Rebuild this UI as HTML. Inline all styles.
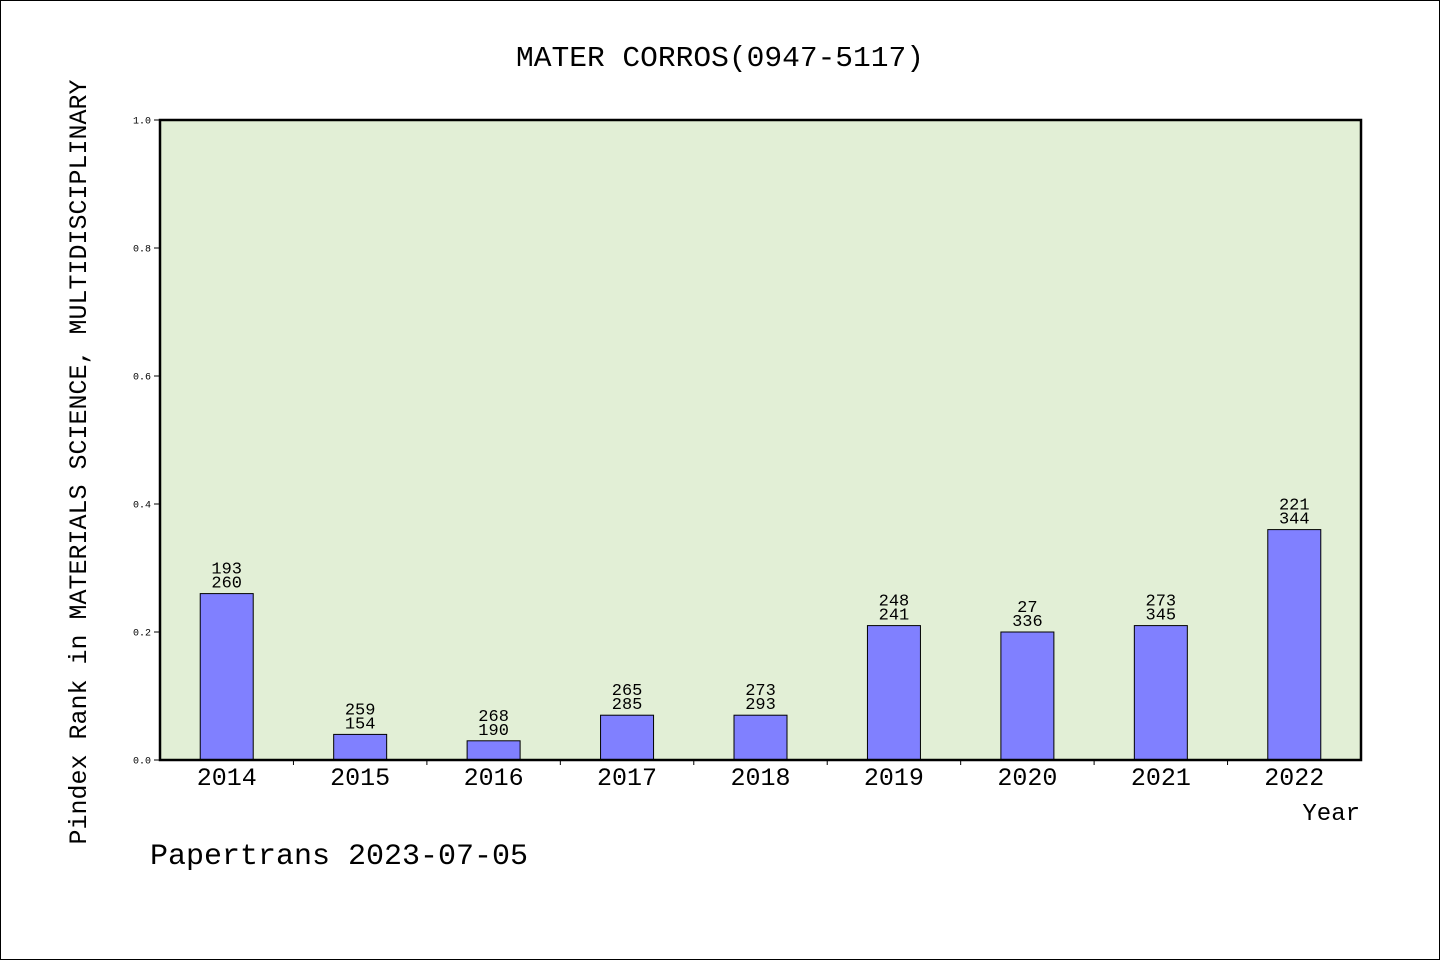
<!DOCTYPE html>
<html><head><meta charset="utf-8"><style>
html,body{margin:0;padding:0;background:#fff}
svg{display:block}
text{font-family:"Liberation Mono",monospace;fill:#000}
</style></head><body>
<svg id="chart" width="1440" height="960">
<rect x="0.5" y="0.5" width="1439" height="959" fill="#fff" stroke="#000"/>
<text x="720" y="66" font-size="29" text-anchor="middle" textLength="408" lengthAdjust="spacingAndGlyphs">MATER CORROS(0947-5117)</text>
<rect x="160" y="120" width="1201" height="640" fill="#e2efd6"/>
<g id="bars"></g>
<rect x="160" y="120" width="1201" height="640" fill="none" stroke="#000" stroke-width="2.5"/>
<g id="axes"></g>
<text x="86" y="462" font-size="25" text-anchor="middle" textLength="765" lengthAdjust="spacingAndGlyphs" transform="rotate(-90 86 462)">Pindex Rank in MATERIALS SCIENCE, MULTIDISCIPLINARY</text>
<text x="1360" y="820" font-size="24" text-anchor="end">Year</text>
<text x="150" y="864" font-size="30">Papertrans 2023-07-05</text>
</svg>
<script>
const years=["2014","2015","2016","2017","2018","2019","2020","2021","2022"];
const values=[0.26,0.04,0.03,0.07,0.07,0.21,0.20,0.21,0.36];
const topLabels=["193","259","268","265","273","248","27","273","221"];
const bottomLabels=["260","154","190","285","293","241","336","345","344"];
const yTicks=[0,0.2,0.4,0.6,0.8,1.0];
const L=160,R=1361,T=120,B=760;
const step=(R-L)/years.length;
const xC=i=>L+step*(i+0.5);
const yS=v=>B-(B-T)*v;
const NS="http://www.w3.org/2000/svg";
const bars=document.getElementById('bars'),axes=document.getElementById('axes');
function mk(tag,attrs,parent,txt){const e=document.createElementNS(NS,tag);for(const k in attrs)e.setAttribute(k,attrs[k]);if(txt!==undefined)e.textContent=txt;parent.appendChild(e);return e;}
values.forEach((v,i)=>{
 const r=mk('rect',{x:xC(i)-26.5,y:yS(v),width:53,height:B-yS(v),fill:'#8080ff',stroke:'#000','stroke-width':1},bars);
 
 
 const t1=mk('text',{x:xC(i),y:yS(v)-20,'font-size':17,'text-anchor':'middle'},bars,topLabels[i]);
 
 
 const t2=mk('text',{x:xC(i),y:yS(v)-6,'font-size':17,'text-anchor':'middle'},bars,bottomLabels[i]);
 
 
 const xl=mk('text',{x:xC(i),y:785,'font-size':25,'text-anchor':'middle'},axes,years[i]);
 
 
 if(i>0){const tk=mk('line',{x1:L+step*i,x2:L+step*i,y1:B,y2:B+5,stroke:'#000'},axes);
 
 }
});
yTicks.forEach(v=>{
 const tk=mk('line',{x1:L-6,x2:L,y1:yS(v),y2:yS(v),stroke:'#000'},axes);
 
 
 const tl=mk('text',{x:L-9,y:yS(v)+3.5,'font-size':10,'text-anchor':'end'},axes,v.toFixed(1));
 
 
});
</script>
</body></html>
